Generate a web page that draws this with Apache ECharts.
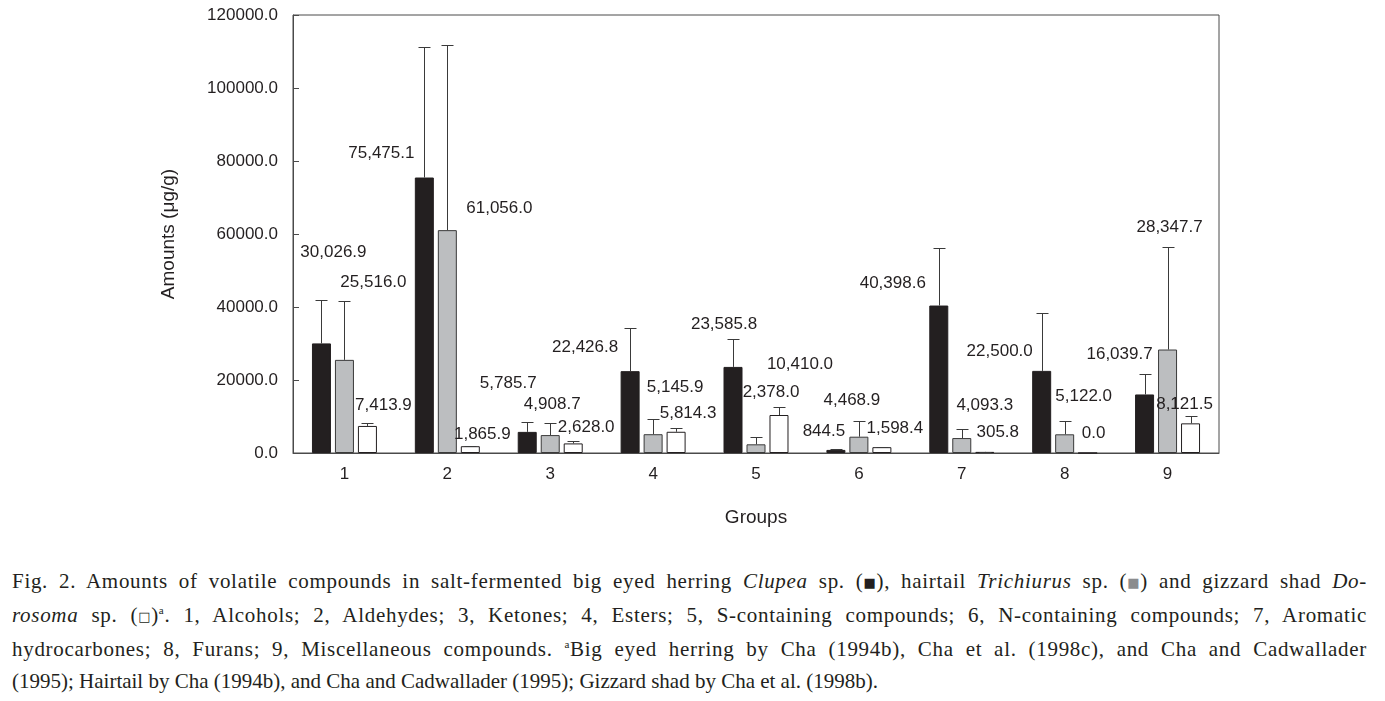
<!DOCTYPE html>
<html>
<head>
<meta charset="utf-8">
<script src="https://cdn.jsdelivr.net/npm/echarts@6/dist/echarts.min.js"></script>
<style>
  html, body { margin: 0; padding: 0; background: #fff; }
  #main { position: absolute; left: 0; top: 0; width: 1385px; height: 550px; }
  #caption {
    position: absolute; left: 12px; top: 565px; width: 1355px;
    font-family: 'Liberation Serif', 'Times New Roman', serif;
    font-size: 21px; line-height: 32px; color: #231f20;
  }
  #caption .j { text-align: justify; text-align-last: justify; letter-spacing: 0.7px; }
  #caption sup { font-size: 11px; vertical-align: 8px; line-height: 0; }
  .sq { display: inline-block; font-family: 'DejaVu Sans', sans-serif; font-size: 13px; vertical-align: 1px; }
</style>
</head>
<body>
<div id="main"></div>
<div id="caption">
  <div class="j">Fig. 2. Amounts of volatile compounds in salt-fermented big eyed herring <i>Clupea</i> sp. (<span class="sq">■</span>), hairtail <i>Trichiurus</i> sp. (<span class="sq" style="color:#8a8c8e">■</span>) and gizzard shad <i>Do-</i></div>
  <div class="j"><i>rosoma</i> sp. (<span class="sq">□</span>)<sup>a</sup>. 1, Alcohols; 2, Aldehydes; 3, Ketones; 4, Esters; 5, S-containing compounds; 6, N-containing compounds; 7, Aromatic</div>
  <div class="j">hydrocarbones; 8, Furans; 9, Miscellaneous compounds. <sup>a</sup>Big eyed herring by Cha (1994b), Cha et al. (1998c), and Cha and Cadwallader</div>
  <div>(1995); Hairtail by Cha (1994b), and Cha and Cadwallader (1995); Gizzard shad by Cha et al. (1998b).</div>
</div>
<script>
// groups on the x axis
const groups = ['1', '2', '3', '4', '5', '6', '7', '8', '9']

// mean amounts (ug/g)
const herring = [30026.9, 75475.1, 5785.7, 22426.8, 23585.8, 844.5, 40398.6, 22500.0, 16039.7]
const hairtail = [25516.0, 61056.0, 4908.7, 5145.9, 2378.0, 4468.9, 4093.3, 5122.0, 28347.7]
const gizzard = [7413.9, 1865.9, 2628.0, 5814.3, 10410.0, 1598.4, 305.8, 0.0, 8121.5]

// top of the error bar (mean + sd)
const herringTop = [41900, 111100, 8500, 34200, 31200, 1100, 56100, 38300, 21600]
const hairtailTop = [41600, 111800, 8100, 9200, 4300, 8900, 6700, 8800, 56400]
const gizzardTop = [8100, 2000, 3200, 6900, 12600, 1700, 400, 0, 10200]

const yTicks = [0, 120000, 20000] // min, max, step

// where each value label sits relative to the top of its bar (layout only)
const herringLabelShift = [[12, -83], [-43, -16], [-19, -40], [-45, -15], [-9, -34], [-12, -10], [-46, -14], [-42, -11], [-25, -32]]
const hairtailLabelShift = [[29, -69], [52, -13], [2, -22], [22, -38], [15, -44], [-7, -28], [23, -24], [19, -29], [2, -114]]
const gizzardLabelShift = [[16, -12], [12, -3], [13, -8], [12, -10], [21, -42], [13, -10], [13, -11], [6, -11], [-6, -11]]

const ink = '#231f20'
const font = 'Liberation Sans'

function fmt (v) {
  return v.toLocaleString('en-US', { minimumFractionDigits: 1, maximumFractionDigits: 1 })
}

function barData (values, shifts) {
  return values.map((v, i) => ({ value: v, label: { offset: shifts[i] } }))
}

function errData (values, tops) {
  return values.map((v, i) => [i, v, tops[i]])
}

function errorBars (shiftX) {
  return function (params, api) {
    if (api.value(2) <= api.value(1)) return null
    const base = api.coord([api.value(0), api.value(1)])
    const top = api.coord([api.value(0), api.value(2)])
    const x = Math.round(base[0] + shiftX) + 0.5
    const yT = Math.round(top[1]) + 0.5
    const style = { stroke: '#3a3a3a', lineWidth: 1 }
    return {
      type: 'group',
      children: [
        { type: 'line', shape: { x1: x, y1: base[1], x2: x, y2: yT }, style: style },
        { type: 'line', shape: { x1: x - 6, y1: yT, x2: x + 6, y2: yT }, style: style }
      ]
    }
  }
}

const barLabel = {
  show: true,
  position: 'top',
  distance: 0,
  fontFamily: font,
  fontSize: 17,
  color: ink,
  formatter: p => fmt(p.value)
}

var myChart = echarts.init(document.getElementById('main'), null, { renderer: 'canvas' })

var option = {
  animation: false,
  textStyle: { fontFamily: font, color: ink },
  grid: {
    left: 293,
    top: 15,
    width: 926,
    height: 438,
    show: true,
    borderColor: '#4a4a4a',
    borderWidth: 1
  },
  xAxis: {
    type: 'category',
    data: groups,
    name: 'Groups',
    nameLocation: 'middle',
    nameGap: 55,
    nameTextStyle: { fontFamily: font, fontSize: 19, color: ink },
    axisLine: { lineStyle: { color: '#4a4a4a', width: 1 } },
    axisTick: { inside: true, length: 5, lineStyle: { color: '#4a4a4a' } },
    axisLabel: { margin: 13, fontFamily: font, fontSize: 17, color: ink },
    splitLine: { show: false }
  },
  yAxis: {
    type: 'value',
    min: yTicks[0],
    max: yTicks[1],
    interval: yTicks[2],
    name: 'Amounts (μg/g)',
    nameLocation: 'middle',
    nameRotate: 90,
    nameGap: 115,
    nameTextStyle: { fontFamily: font, fontSize: 19, color: ink },
    axisLine: { show: true, lineStyle: { color: '#4a4a4a', width: 1 } },
    axisTick: { show: true, inside: true, length: 6, lineStyle: { color: '#4a4a4a' } },
    axisLabel: { margin: 15, fontFamily: font, fontSize: 17, color: ink, formatter: v => v.toFixed(1) },
    splitLine: { show: false }
  },
  series: [
    {
      name: 'Clupea',
      type: 'bar',
      barWidth: 19,
      barGap: '21%',
      itemStyle: { color: ink, borderColor: ink, borderWidth: 1 },
      label: barLabel,
      data: barData(herring, herringLabelShift)
    },
    {
      name: 'Trichiurus',
      type: 'bar',
      barWidth: 19,
      barGap: '21%',
      itemStyle: { color: '#bcbec0', borderColor: '#3a3a3a', borderWidth: 1 },
      label: barLabel,
      data: barData(hairtail, hairtailLabelShift)
    },
    {
      name: 'Dorosoma',
      type: 'bar',
      barWidth: 19,
      barGap: '21%',
      itemStyle: { color: '#ffffff', borderColor: ink, borderWidth: 1 },
      label: barLabel,
      data: barData(gizzard, gizzardLabelShift)
    },
    { type: 'custom', z: 3, renderItem: errorBars(-23), encode: { x: 0, y: [1, 2] }, data: errData(herring, herringTop) },
    { type: 'custom', z: 3, renderItem: errorBars(0), encode: { x: 0, y: [1, 2] }, data: errData(hairtail, hairtailTop) },
    { type: 'custom', z: 3, renderItem: errorBars(23), encode: { x: 0, y: [1, 2] }, data: errData(gizzard, gizzardTop) }
  ]
}

myChart.setOption(option)
</script>
</body>
</html>
